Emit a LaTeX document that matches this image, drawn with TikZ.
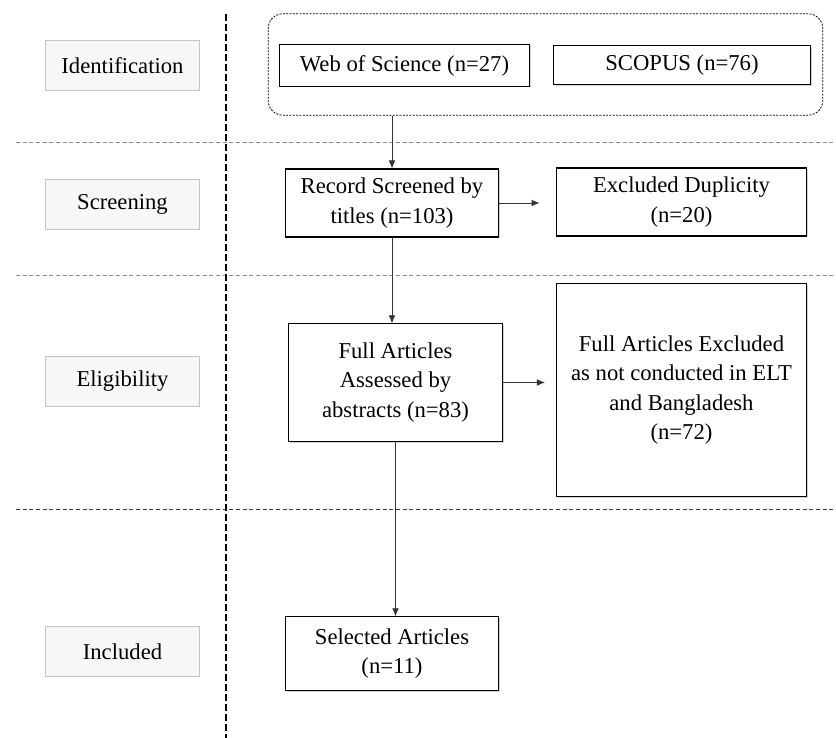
\documentclass[tikz,border=0pt]{standalone}
\usepackage{fontspec}
\setmainfont{Liberation Serif}
\usetikzlibrary{shadows,arrows.meta}
\definecolor{stageGray}{RGB}{196,196,196}
\definecolor{stageFill}{RGB}{247,247,247}
\definecolor{ruleGray}{RGB}{140,140,140}
\tikzset{
  stagebox/.style={draw=stageGray, fill=stageFill, line width=0.8pt, minimum width=116pt, minimum height=37pt, font=\fontsize{17}{22}\selectfont},
  flowbox/.style={draw, fill=white, line width=0.8pt, align=center, inner sep=2pt, font=\fontsize{17}{22}\selectfont,
    drop shadow={shadow xshift=1pt, shadow yshift=-1pt, opacity=0.35}},
  flowarrow/.style={-{Latex[length=6pt,width=5pt]}, line width=0.6pt, black!80}
}
\begin{document}
\begin{tikzpicture}[x=0.75pt, y=-0.75pt]
                \useasboundingbox (0,0) rectangle (836,738);
                % stage dividers
                \draw[ruleGray, line width=0.7pt, dash pattern=on 3pt off 2pt] (16,142) -- (836,142);
                \draw[ruleGray, line width=0.7pt, dash pattern=on 3pt off 2pt] (16,275) -- (836,275);
                \draw[black!75, line width=0.7pt, dash pattern=on 3pt off 2pt] (16,509) -- (836,509);
                \draw[black, line width=1.6pt, dash pattern=on 5pt off 2.5pt] (226,14) -- (226,738);
                % stages
                \node[stagebox] (idstage) at (122.5,65.5) {Identification};
                \node[stagebox] (scrstage) at (122.5,204.5) {Screening};
                \node[stagebox, minimum height=38pt] (eligstage) at (122.5,381.5) {Eligibility};
                \node[stagebox] (inclstage) at (122.5,651.5) {Included};
                % databases
                \node[draw, line width=0.6pt, dash pattern=on 1.5pt off 1pt, rounded corners=11pt, minimum width=416pt, minimum height=76pt] (sources) at (545.5,64.5) {};
                \node[flowbox, minimum width=188pt, minimum height=31pt] (wos) at (404.5,65.5) {Web of Science (n=27)};
                \node[flowbox, minimum width=193pt, minimum height=29pt] (scopus) at (682,65) {SCOPUS (n=76)};
                % flow
                \node[flowbox, minimum width=160pt, minimum height=51pt] (screened) at (392,203) {Record Screened by\\titles (n=103)};
                \node[flowbox, minimum width=188pt, minimum height=51pt] (duplicity) at (681.5,202) {Excluded Duplicity\\(n=20)};
                \node[flowbox, minimum width=160pt, minimum height=88pt] (assessed) at (395.5,382.5) {Full Articles\\Assessed by\\abstracts (n=83)};
                \node[flowbox, minimum width=188pt, minimum height=160pt] (excluded) at (681.5,390) {Full Articles Excluded\\as not conducted in ELT\\and Bangladesh\\(n=72)};
                \node[flowbox, minimum width=160pt, minimum height=55pt] (selected) at (392,653.5) {Selected Articles\\(n=11)};
                % arrows
                \draw[flowarrow] (screened.north |- sources.south) -- (screened.north);
                \draw[flowarrow, shorten >=12pt] (screened.east) -- (screened.east -| duplicity.west);
                \draw[flowarrow] (screened.south) -- (screened.south |- assessed.north);
                \draw[flowarrow, shorten >=8pt] (assessed.east) -- (assessed.east -| excluded.west);
                \draw[flowarrow] (assessed.south) -- (assessed.south |- selected.north);
            \end{tikzpicture}
\end{document}
